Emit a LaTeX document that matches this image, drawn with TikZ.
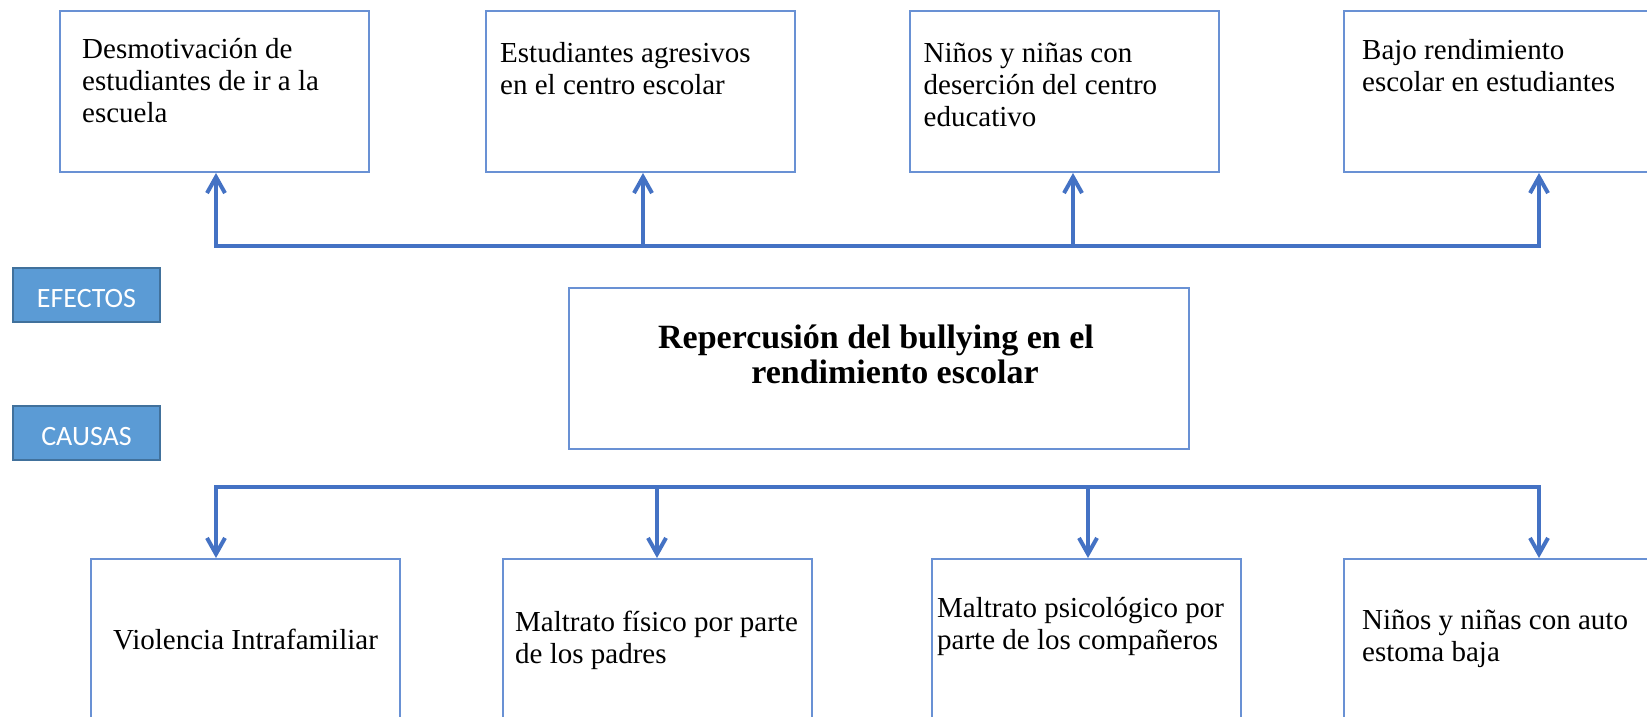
\documentclass[tikz,border=0pt]{standalone}
\usepackage{fontspec}
\setmainfont{Liberation Serif}
\newfontfamily\tagfont{Carlito}
\usetikzlibrary{positioning,arrows.meta}
\definecolor{arrowblue}{RGB}{68,114,196}
\definecolor{boxblue}{RGB}{105,145,212}
\definecolor{tagfill}{RGB}{91,155,213}
\definecolor{tagline}{RGB}{65,113,156}

\begin{document}
\begin{tikzpicture}[x=1pt, y=-1pt,
		box/.style={draw=boxblue, line width=2pt, minimum width=309pt, minimum height=161pt, inner sep=0pt},
		boxtext/.style={inner sep=0pt, align=left, font=\fontsize{29}{32}\selectfont},
		tag/.style={draw=tagline, fill=tagfill, line width=2pt, minimum width=147pt, minimum height=54pt, text=white, text height=25.7pt, text depth=0pt, font=\tagfont\fontsize{28}{30}\selectfont},
		bus/.style={draw=arrowblue, line width=4pt, line cap=rect},
		conn/.style={bus, -{Straight Barb[length=16pt, width=18pt]}}]
			%%%%% START %%%%%
			
			\useasboundingbox (0,0) rectangle (1647,716);
			\clip (0,0) rectangle (1647,716);
			
			% efectos
			\node[box] (e1) at (214.5, 91.5) {};
			\node[boxtext, below right=25.6pt and 23pt of e1.north west] (e1t) {\strut Desmotivación de\\estudiantes de ir a la\\escuela};
			\node[box] (e2) at (640.5, 91.5) {};
			\node[boxtext, below right=29.6pt and 15pt of e2.north west] (e2t) {\strut Estudiantes agresivos\\en el centro escolar};
			\node[box] (e3) at (1064, 91.5) {};
			\node[boxtext, below right=29.6pt and 15pt of e3.north west] (e3t) {\strut Niños y niñas con\\deserción del centro\\educativo};
			\node[box] (e4) at (1498.5, 91.5) {};
			\node[boxtext, below right=26.6pt and 19pt of e4.north west] (e4t) {\strut Bajo rendimiento\\escolar en estudiantes};
			
			% tema central
			\node[box, minimum width=620pt, line width=2.5pt] (m) at (879, 368.5) {};
			\node[below=37.5pt of m.north, xshift=-3pt, inner sep=0pt, align=center, font=\fontsize{34}{35}\selectfont\bfseries] (mt) {\strut Repercusión del bullying en el\\\hspace*{38pt}rendimiento escolar};
			
			\node[tag] (ef) at (86.5, 294.5) {EFECTOS};
			\node[tag] (ca) at (86.5, 433) {CAUSAS};
			
			% causas
			\node[box] (c1) at (245.5, 639.5) {};
			\node[boxtext, below=68.6pt of c1.north] (c1t) {\strut Violencia Intrafamiliar};
			\node[box] (c2) at (657.5, 639.5) {};
			\node[boxtext, below right=50.6pt and 13pt of c2.north west] (c2t) {\strut Maltrato físico por parte\\de los padres};
			\node[box] (c3) at (1086.5, 639.5) {};
			\node[boxtext, below right=36.6pt and 6pt of c3.north west] (c3t) {\strut Maltrato psicológico por\\parte de los compañeros};
			\node[box] (c4) at (1498.5, 639.5) {};
			\node[boxtext, below right=48.6pt and 19pt of c4.north west] (c4t) {\strut Niños y niñas con auto\\estoma baja};
			
			% conectores
			\coordinate (eb1) at (216, 246);
			\coordinate (eb2) at (643, 246);
			\coordinate (eb3) at (1073, 246);
			\coordinate (eb4) at (1539, 246);
			\coordinate (cb1) at (216, 487);
			\coordinate (cb2) at (657, 487);
			\coordinate (cb3) at (1088, 487);
			\coordinate (cb4) at (1539, 487);
			
			\draw[bus] (eb1) -- (eb4);
			\draw[conn] (eb1) -- (eb1 |- e1.south);
			\draw[conn] (eb2) -- (eb2 |- e2.south);
			\draw[conn] (eb3) -- (eb3 |- e3.south);
			\draw[conn] (eb4) -- (eb4 |- e4.south);
			
			\draw[bus] (cb1) -- (cb4);
			\draw[conn] (cb1) -- (cb1 |- c1.north);
			\draw[conn] (cb2) -- (cb2 |- c2.north);
			\draw[conn] (cb3) -- (cb3 |- c3.north);
			\draw[conn] (cb4) -- (cb4 |- c4.north);
			
			%%%%% END %%%%%
		\end{tikzpicture}
\end{document}
